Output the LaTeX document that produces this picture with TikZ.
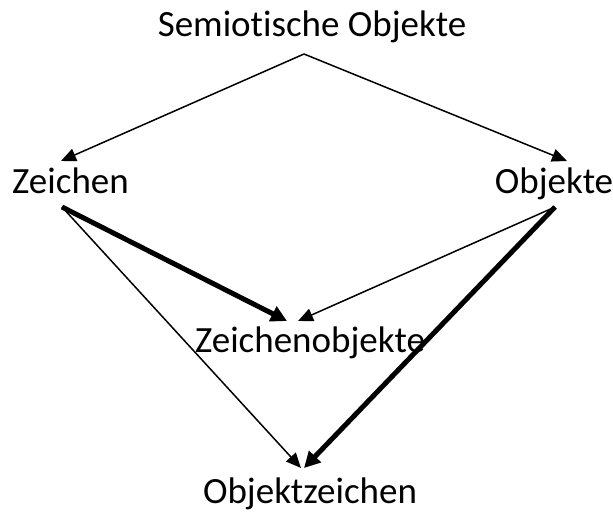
\documentclass[tikz,border=0pt]{standalone}
\usepackage{fontspec}
\setmainfont{Carlito}[Ligatures={NoCommon}]
\usetikzlibrary{arrows.meta}
\begin{document}
\begin{tikzpicture}[x=1pt,y=-1pt,
  lbl/.style={anchor=base,inner sep=0pt,font=\fontsize{37}{41}\selectfont},
  thin/.style={line width=1.5pt,-{Triangle[length=15pt,width=13pt]}},
  thick/.style={line width=5pt,-{Triangle[length=16pt,width=16pt]}}]
\useasboundingbox (0,0) rectangle (613,514);
\node[lbl] (so) at (312,36) {Semiotische Objekte};
\node[lbl] (z) at (70.5,193) {Zeichen};
\node[lbl] (o) at (554,193) {Objekte};
\node[lbl] (zo) at (310,352) {Zeichenobjekte};
\node[lbl] (oz) at (310,503) {Objektzeichen};
\coordinate (apex) at (304,54);
\coordinate (zt) at (61,161);
\coordinate (ot) at (567,161);
\coordinate (zs) at (62,207);
\coordinate (os) at (555,207);
\coordinate (zoL) at (287,321);
\coordinate (zoR) at (298,321);
\coordinate (ozL) at (301,468);
\coordinate (ozR) at (304,468);
\draw[thin] (apex) -- (zt);
\draw[thin] (apex) -- (ot);
\draw[thick] (zs) -- (zoL);
\draw[thin] (os) -- (zoR);
\draw[thin] (zs) -- (ozL);
\draw[thick] (os) -- (ozR);
\end{tikzpicture}
\end{document}
